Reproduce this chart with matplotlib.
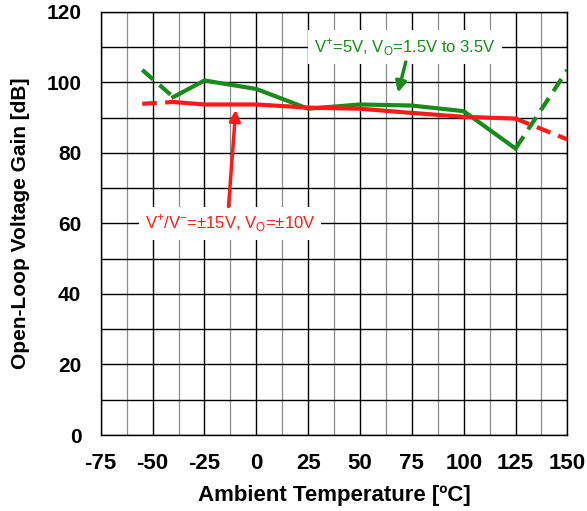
import matplotlib
matplotlib.use('Agg')
import matplotlib.pyplot as plt
import matplotlib.ticker

# Open-loop voltage gain vs ambient temperature
temp = [-55, -40, -25, 0, 25, 50, 75, 100, 125, 150]
gain_5v = [103.5, 95.8, 100.5, 98.1, 92.5, 93.7, 93.4, 91.8, 81.2, 103.5]
gain_15v = [93.9, 94.4, 93.7, 93.7, 92.8, 92.5, 91.3, 90.2, 89.7, 83.8]

label_5v = r'V$^{+}$=5V, V$_{\mathrm{O}}$=1.5V to 3.5V'
label_15v = r'V$^{+}$/V$^{-}$=±15V, V$_{\mathrm{O}}$=±10V'

x_ticks = [-75, -50, -25, 0, 25, 50, 75, 100, 125, 150]
y_ticks = [0, 20, 40, 60, 80, 100, 120]

plt.rcParams['font.family'] = ['Liberation Sans', 'DejaVu Sans']
plt.rcParams['mathtext.fontset'] = 'custom'
plt.rcParams['mathtext.rm'] = 'Liberation Sans'
plt.rcParams['axes.unicode_minus'] = False

fig = plt.figure(figsize=(5.87, 5.11), dpi=100)
ax = fig.add_axes([0.1716, 0.1487, 0.795, 0.8284])

ax.set_xlim(-75, 150)
ax.set_ylim(0, 120)
ax.set_xticks(x_ticks)
ax.set_yticks(y_ticks)
ax.xaxis.set_minor_locator(matplotlib.ticker.MultipleLocator(12.5))
ax.yaxis.set_minor_locator(matplotlib.ticker.MultipleLocator(10))
ax.grid(which='major', color='black', lw=1.0)
ax.grid(which='minor', axis='y', color='black', lw=1.0)
ax.grid(which='minor', axis='x', color='#8c8c8c', lw=0.9)
ax.tick_params(which='both', length=0)
ax.tick_params(axis='x', pad=13)
ax.tick_params(axis='y', pad=14)
for t in ax.get_xticklabels():
    t.set_fontweight('bold')
    t.set_fontsize(16)
for t in ax.get_yticklabels():
    t.set_fontweight('bold')
    t.set_fontsize(15)
for s in ax.spines.values():
    s.set_color('black')
    s.set_linewidth(1.0)

green = '#1a8a1a'
red = '#ff1a1a'
dash = (0, (3.5, 2))

# dashed extrapolated ends, solid measured middle
ax.plot(temp[:2], gain_5v[:2], c=green, lw=3, ls=dash, zorder=3)
ax.plot(temp[1:-1], gain_5v[1:-1], c=green, lw=3, zorder=3)
ax.plot(temp[-2:], gain_5v[-2:], c=green, lw=3, ls=dash, zorder=3)
ax.plot(temp[:2], gain_15v[:2], c=red, lw=3, ls=dash, zorder=3)
ax.plot(temp[1:-1], gain_15v[1:-1], c=red, lw=3, zorder=3)
ax.plot(temp[-2:], gain_15v[-2:], c=red, lw=3, ls=dash, zorder=3)

box = dict(boxstyle='square,pad=0.35', fc='white', ec='none')
ax.text(71.8, 110, label_5v, color=green, fontsize=12, ha='center',
        va='center', bbox=box, zorder=4)
ax.annotate('', xy=(68, 96.3), xytext=(72.4, 106.5),
            arrowprops=dict(arrowstyle='-|>', color=green, lw=2.5,
                            mutation_scale=16), zorder=4)
ax.text(-12.7, 60, label_15v, color=red, fontsize=12, ha='center',
        va='center', bbox=box, zorder=4)
ax.annotate('', xy=(-9.8, 93.0), xytext=(-13.5, 64),
            arrowprops=dict(arrowstyle='-|>', color=red, lw=2.5,
                            mutation_scale=16), zorder=4)

ax.set_xlabel('Ambient Temperature [ºC]', fontsize=16, fontweight='bold',
              labelpad=8)
ax.set_ylabel('Open-Loop Voltage Gain [dB]', fontsize=15, fontweight='bold',
              labelpad=12)

fig.savefig('out.png', dpi=100)
